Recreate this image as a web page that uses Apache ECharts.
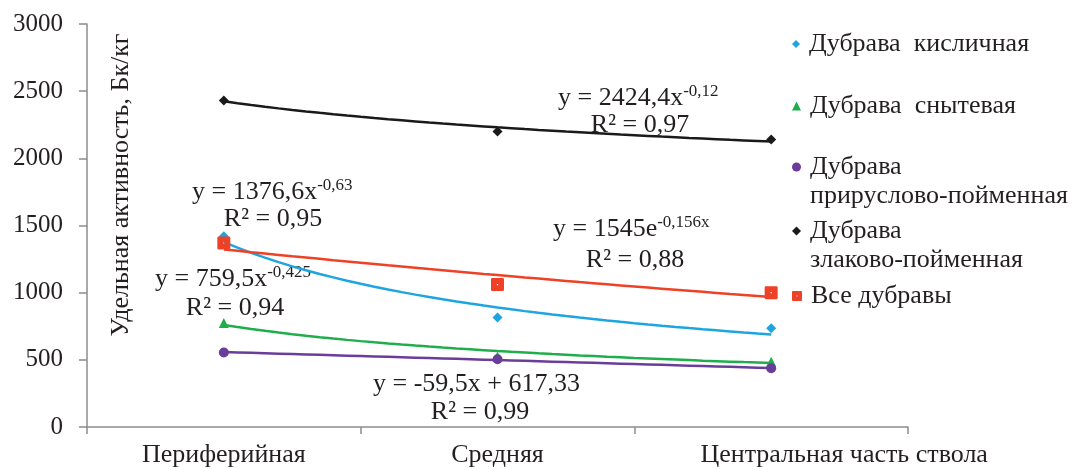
<!DOCTYPE html>
<html><head><meta charset="utf-8">
<script src="https://cdn.jsdelivr.net/npm/echarts@6/dist/echarts.min.js"></script>
<style>html,body{margin:0;padding:0;background:#fff}#c{width:1077px;height:469px}</style>
</head><body><div id="c"></div>
<script>
// ---- data ----
const categories = ['Периферийная', 'Средняя', 'Центральная часть ствола'];
const seriesNames = ['Дубрава  кисличная', 'Дубрава  снытевая', 'Дубрава прируслово-пойменная', 'Дубрава злаково-пойменная', 'Все дубравы'];
const kislichnaya = [1420, 815, 735];
const snytevaya = [775, 525, 485];
const priruslovo = [555, 505, 437];
const zlakovo = [2430, 2200, 2140];
const vseDubravy = [1370, 1060, 1000];
// trendline equations as printed on the chart
const fitKislichnaya = ['power', 1376.6, -0.63];
const fitSnytevaya = ['power', 759.5, -0.425];
const fitPriruslovo = ['linear', -59.5, 617.33];
const fitZlakovo = ['power', 2424.4, -0.12];
const fitVse = ['exp', 1545, -0.156];
const yTicks = [0, 500, 1000, 1500, 2000, 2500, 3000];

const FONT = '"Liberation Serif", "Times New Roman", serif';
const TXT = '#231f20';
const colors = ['#1ea5df', '#1fae4b', '#6a3d9a', '#1a1a1a', '#ee4126'];
const squareHole = 'path://M2,0 H18 Q20,0 20,2 V18 Q20,20 18,20 H2 Q0,20 0,18 V2 Q0,0 2,0 Z M9,9 V11 H11 V9 Z';
const symbols = ['diamond', 'triangle', 'circle', 'diamond', squareHole];
const symbolSizes = [10, 10, 10, 10, 13];
const values = [kislichnaya, snytevaya, priruslovo, zlakovo, vseDubravy];
const fits = [fitKislichnaya, fitSnytevaya, fitPriruslovo, fitZlakovo, fitVse];

function trendValue(fit, x) {
  const [kind, a, b] = fit;
  if (kind === 'power') return a * Math.pow(x, b);
  if (kind === 'exp') return a * Math.exp(b * x);
  return a * x + b;
}
function trendPoints(fit) {
  const pts = [];
  for (let i = 0; i <= 40; i++) { const x = 1 + i * 0.05; pts.push([x, trendValue(fit, x)]); }
  return pts;
}

const series = [];
values.forEach((v, i) => {
  series.push({
    name: 'Линия тренда ' + i, type: 'line', xAxisIndex: 1, yAxisIndex: 0,
    data: trendPoints(fits[i]), showSymbol: false, smooth: false, silent: true,
    lineStyle: { color: colors[i], width: 2.5 }, z: 2
  });
});
values.forEach((v, i) => {
  series.push({
    name: seriesNames[i], type: 'scatter', xAxisIndex: 0, yAxisIndex: 0,
    data: v, symbol: symbols[i], symbolSize: symbolSizes[i],
    itemStyle: { color: colors[i], opacity: 1 }, z: 3
  });
});

const legendCenters = [44, 106, 167, 231, 296];
const twoLine = [false, false, true, true, false];
const legendIconSize = [8, 9, 9, 9, 10];
const legends = seriesNames.map((name, i) => ({
  data: [{ name, icon: symbols[i] }],
  left: 792, top: twoLine[i] ? legendCenters[i] - 43.5 : legendCenters[i] - 14.5,
  orient: 'vertical', padding: 0, itemWidth: legendIconSize[i], itemHeight: legendIconSize[i],
  selectedMode: false,
  formatter: n => twoLine[i] ? '\n' + n.replace(' ', '\n') : n,
  textStyle: { fontFamily: FONT, fontSize: 26, color: TXT, lineHeight: 29, padding: [0, 0, 0, 4] }
}));

function eqText(x, y, main, sup) {
  return {
    type: 'text', x: x, y: y, silent: true,
    style: {
      text: '{m|' + main + '}' + (sup ? '{s|' + sup + '}' : ''), x: 0, y: 0,
      textAlign: 'left', textVerticalAlign: 'middle',
      rich: {
        m: { fontFamily: FONT, fontSize: 26, lineHeight: 28, fill: TXT, verticalAlign: 'bottom' },
        s: { fontFamily: FONT, fontSize: 17, lineHeight: 28, fill: TXT, verticalAlign: 'top' }
      }
    }
  };
}
function r2Text(cx, y, txt) {
  return {
    type: 'text', x: cx, y: y, silent: true,
    style: { text: txt, x: 0, y: 0, textAlign: 'center', textVerticalAlign: 'middle',
      fontFamily: FONT, fontSize: 26, fill: TXT }
  };
}

const option = {
  backgroundColor: '#fff',
  animation: false,
  grid: { left: 87, right: 169, top: 24, bottom: 42, containLabel: false, outerBoundsMode: 'none' },
  legend: legends,
  xAxis: [
    {
      type: 'category', boundaryGap: true,
      data: categories.map((c, i) => i === 2 ? { value: c, textStyle: { padding: [0, 0, 0, 146] } } : c),
      axisLine: { show: true, lineStyle: { color: '#8c8c8c', width: 1.5 } },
      axisTick: { show: true, alignWithLabel: false, length: 7, inside: false, lineStyle: { color: '#8c8c8c', width: 1.5 } },
      axisLabel: { fontFamily: FONT, fontSize: 26, color: TXT, margin: 15, interval: 0 },
      splitLine: { show: false }
    },
    { type: 'value', min: 0.5, max: 3.5, show: false }
  ],
  yAxis: {
    type: 'value', min: yTicks[0], max: yTicks[yTicks.length - 1], interval: 500,
    axisLine: { show: true, lineStyle: { color: '#8c8c8c', width: 1.5 } },
    axisTick: { show: true, length: 8, lineStyle: { color: '#8c8c8c', width: 1.5 } },
    axisLabel: { fontFamily: FONT, fontSize: 25, color: TXT, margin: 24, formatter: v => String(v) },
    splitLine: { show: false }
  },
  graphic: [
    { type: 'text', x: 121, y: 185, rotation: Math.PI / 2, silent: true,
      style: { text: 'Удельная активность, Бк/кг', x: 0, y: 0, textAlign: 'center', textVerticalAlign: 'middle',
        fontFamily: FONT, fontSize: 26, fill: TXT } },
    eqText(192, 191, 'y = 1376,6x', '-0,63'), r2Text(273, 219, 'R² = 0,95'),
    eqText(155, 278, 'y = 759,5x', '-0,425'), r2Text(235, 308, 'R² = 0,94'),
    eqText(558, 97, 'y = 2424,4x', '-0,12'), r2Text(640, 125, 'R² = 0,97'),
    eqText(553, 228, 'y = 1545e', '-0,156x'), r2Text(635, 260, 'R² = 0,88'),
    eqText(373, 383, 'y = -59,5x + 617,33', ''), r2Text(480, 412, 'R² = 0,99')
  ],
  series: series
};
const chart = echarts.init(document.getElementById('c'), null, { renderer: 'canvas' });
chart.setOption(option);
</script></body></html>
